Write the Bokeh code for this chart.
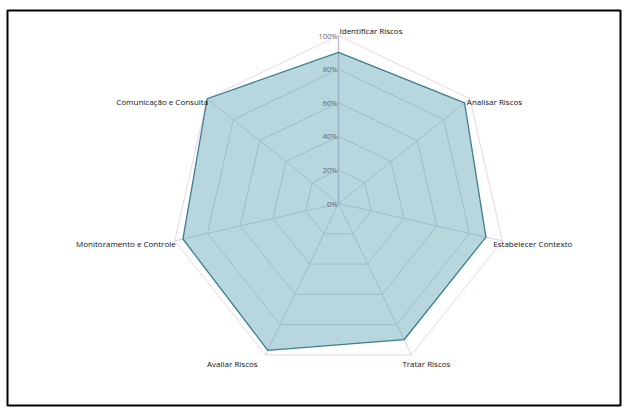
import numpy as np
from bokeh.plotting import figure
from bokeh.models import ColumnDataSource
from bokeh.core.properties import value
from bokeh.embed import file_html
from bokeh.resources import INLINE

categories = ["Identificar Riscos", "Analisar Riscos", "Estabelecer Contexto", "Tratar Riscos",
              "Avaliar Riscos", "Monitoramento e Controle", "Comunicação e Consulta"]
values = [90, 96, 90, 90, 97, 95, 100]
tick_levels = [0, 20, 40, 60, 80, 100]
tick_labels = ["0%", "20%", "40%", "60%", "80%", "100%"]

W, H = 627, 414
L, R, T, B = 7, 7, 10, 9
cx, cy = 338, 203
s = 168.0

p = figure(width=W, height=H, output_backend="svg", toolbar_location=None,
           x_range=((L - cx) / s, (W - R - cx) / s),
           y_range=((cy - (H - B)) / s, (cy - T) / s),
           min_border_left=L, min_border_right=R, min_border_top=T, min_border_bottom=B)
p.xaxis.visible = False
p.yaxis.visible = False
p.grid.visible = False
p.outline_line_color = "black"
p.outline_line_width = 2
p.background_fill_color = "white"
p.border_fill_color = "white"

n = len(categories)
ang = np.pi / 2 - 2 * np.pi * np.arange(n) / n
ca, sa = np.cos(ang), np.sin(ang)

# grid polygons
for lv in tick_levels[1:]:
    r = lv / 100
    col = "#f1d3e4" if lv == 100 else "#cdd3e0"
    p.patch(list(r * ca) + [r * ca[0]], list(r * sa) + [r * sa[0]],
            fill_color=None, line_color=col, line_width=1)
# spokes
for i in range(n):
    col = "#c8badb" if i == 0 else "#cdd3e0"
    p.line([0, ca[i]], [0, sa[i]], line_color=col, line_width=1.5 if i == 0 else 1)

# data polygon
v = np.array(values) / 100
p.patch(list(v * ca), list(v * sa), fill_color="#5fa3b3", fill_alpha=0.45,
        line_color="#3b7f8e", line_width=1.3)

# tick labels
tsrc = ColumnDataSource(dict(x=[0] * len(tick_levels), y=[lv / 100 for lv in tick_levels],
                             t=tick_labels))
p.text(x="x", y="y", text="t", source=tsrc, text_align="right", text_baseline="middle",
       x_offset=-1, text_font=value("Open Sans"), text_font_size="7.5px", text_color="#666666")

# category labels
for i, c in enumerate(categories):
    x, y = ca[i], sa[i]
    if i == 0:
        al, bl, xo, yo = "left", "bottom", 1, 0
    elif i == 1:
        al, bl, xo, yo = "left", "middle", -3, 3
    elif i == 2:
        al, bl, xo, yo = "left", "middle", -9, 3
    elif i == 3:
        al, bl, xo, yo = "left", "top", -9, 3
    elif i == 4:
        al, bl, xo, yo = "right", "top", -8, 3
    else:
        al, bl, xo, yo = "right", "middle", 1, 3
    p.text(x=[x], y=[y], text=[c], text_align=al, text_baseline=bl, x_offset=xo, y_offset=yo,
           text_font=value("Open Sans"), text_font_size="8px", text_color="#111111")

open("out.html", "w").write(file_html(p, INLINE))
